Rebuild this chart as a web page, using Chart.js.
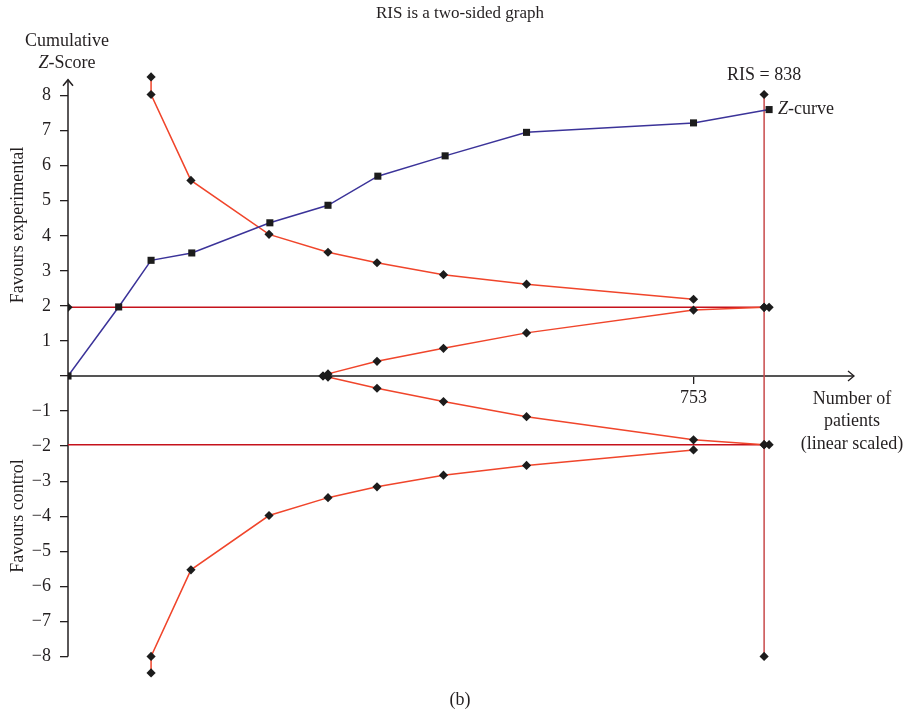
<!DOCTYPE html>
<html>
<head>
<meta charset="utf-8">
<script src="https://cdn.jsdelivr.net/npm/chart.js@4.4.1/dist/chart.umd.min.js"></script>
<style>
  html, body { margin: 0; padding: 0; background: #fff; }
  canvas { display: block; }
</style>
</head>
<body>
<canvas id="tsa" width="906" height="716"></canvas>
<script>
// cumulative Z-curve (patients accrued, z value)
const patients = [0, 61, 100, 149, 243, 313, 373, 454, 552, 753, 844];
const zCurve = [0, 1.97, 3.30, 3.51, 4.37, 4.87, 5.70, 6.28, 6.95, 7.22, 7.60];

// monitoring boundaries
const boundPatients = [100, 100, 148, 242, 313, 372, 452, 552, 753];
const upperEfficacy = [8.53, 8.03, 5.58, 4.04, 3.53, 3.23, 2.89, 2.62, 2.19];
const lowerEfficacy = [-8.47, -8.0, -5.53, -3.98, -3.47, -3.16, -2.83, -2.55, -2.11];

// futility wedge
const futPatients = [307, 313, 372, 452, 552, 753, 838];
const upperFutility = [0, 0.06, 0.42, 0.79, 1.23, 1.88, 1.96];
const lowerFutility = [0, -0.03, -0.35, -0.73, -1.16, -1.82, -1.96];

// conventional boundary and required information size
const convPatients = [0, 838, 844];
const conventional = 1.96;
const ris = 838;
const risZ = [8.03, -8.0];

const xTicks = [753];
const yTicks = [-8, -7, -6, -5, -4, -3, -2, -1, 0, 1, 2, 3, 4, 5, 6, 7, 8];

const FONT = '"Liberation Serif", "DejaVu Serif", serif';
const SIZE = 18;
const TEXT = '#231f20';
const MARK = '#1c1c1c';

function pts(xs, ys) {
  return xs.map((x, i) => ({ x: x, y: ys[i] }));
}

function lineSet(data, color, opts) {
  return Object.assign({
    data: data,
    showLine: true,
    borderColor: color,
    borderWidth: 1.5,
    pointStyle: 'rectRot',
    pointRadius: 4.6,
    pointBackgroundColor: MARK,
    pointBorderColor: MARK,
    pointBorderWidth: 0,
    tension: 0
  }, opts || {});
}

function italicStart(ctx, first, rest, x, y, align) {
  ctx.font = 'italic ' + SIZE + 'px ' + FONT;
  const w1 = ctx.measureText(first).width;
  ctx.font = SIZE + 'px ' + FONT;
  const w2 = ctx.measureText(rest).width;
  let left = x;
  if (align === 'center') left = x - (w1 + w2) / 2;
  ctx.textAlign = 'left';
  ctx.font = 'italic ' + SIZE + 'px ' + FONT;
  ctx.fillText(first, left, y);
  ctx.font = SIZE + 'px ' + FONT;
  ctx.fillText(rest, left + w1, y);
}

function vertical(ctx, text, x, y) {
  ctx.save();
  ctx.translate(x, y);
  ctx.rotate(-Math.PI / 2);
  ctx.textAlign = 'center';
  ctx.font = SIZE + 'px ' + FONT;
  ctx.fillText(text, 0, 0);
  ctx.restore();
}

const axesPlugin = {
  id: 'axes',
  beforeDatasetsDraw(chart) {
    const ctx = chart.ctx;
    const xs = chart.scales.x, ys = chart.scales.y;
    const x0 = xs.getPixelForValue(0);
    const y0 = ys.getPixelForValue(0);
    ctx.save();
    // y axis with arrow
    ctx.strokeStyle = '#231f20';
    ctx.lineWidth = 1.5;
    const yTop = ys.getPixelForValue(8.45);
    ctx.beginPath();
    ctx.moveTo(x0, ys.getPixelForValue(-8));
    ctx.lineTo(x0, yTop);
    ctx.stroke();
    ctx.beginPath();
    ctx.moveTo(x0 - 5, yTop + 6);
    ctx.lineTo(x0, yTop);
    ctx.lineTo(x0 + 5, yTop + 6);
    ctx.stroke();
    // x axis with arrow
    ctx.strokeStyle = '#555';
    ctx.lineWidth = 2;
    const xEnd = chart.chartArea.right + 1;
    ctx.beginPath();
    ctx.moveTo(x0, y0);
    ctx.lineTo(xEnd, y0);
    ctx.stroke();
    ctx.lineWidth = 1.3;
    ctx.strokeStyle = '#231f20';
    ctx.beginPath();
    ctx.moveTo(xEnd - 6, y0 - 5);
    ctx.lineTo(xEnd, y0);
    ctx.lineTo(xEnd - 6, y0 + 5);
    ctx.stroke();
    ctx.restore();
  },
  afterDraw(chart) {
    const ctx = chart.ctx;
    const xs = chart.scales.x, ys = chart.scales.y;
    ctx.save();
    ctx.fillStyle = TEXT;
    ctx.textBaseline = 'middle';
    ctx.textAlign = 'center';
    ctx.font = '17px ' + FONT;
    ctx.fillText('RIS is a two-sided graph', 460, 14);
    ctx.font = SIZE + 'px ' + FONT;
    ctx.fillText('(b)', 460, 700);
    ctx.fillText('Cumulative', 67, 41);
    italicStart(ctx, 'Z', '-Score', 67, 63, 'center');

    ctx.textAlign = 'center';
    ctx.fillText('Number of', 852, 399);
    ctx.fillText('patients', 852, 421);
    ctx.fillText('(linear scaled)', 852, 444);

    const rx = xs.getPixelForValue(ris);
    ctx.fillText('RIS = ' + ris, rx, 75);
    italicStart(ctx, 'Z', '-curve', xs.getPixelForValue(patients[patients.length - 1]) + 9,
      ys.getPixelForValue(zCurve[zCurve.length - 1]), 'left');

    vertical(ctx, 'Favours experimental', 18, 225);
    vertical(ctx, 'Favours control', 18, 516);
    ctx.restore();
  }
};

const ctx = document.getElementById('tsa').getContext('2d');
const chart = new Chart(ctx, {
  type: 'scatter',
  data: {
    datasets: [
      lineSet(pts(patients, zCurve), '#3b3399', { pointStyle: 'rect', pointRadius: 5, order: 0 }),
      lineSet(pts(boundPatients, upperEfficacy), '#f0452b', { order: 2 }),
      lineSet(pts(boundPatients, lowerEfficacy), '#f0452b', { order: 2 }),
      lineSet(pts(futPatients, upperFutility), '#f0452b', { order: 2 }),
      lineSet(pts(futPatients, lowerFutility), '#f0452b', { order: 2 }),
      lineSet(convPatients.map(x => ({ x: x, y: conventional })), '#c5121c',
        { pointRadius: [4.6, 4.6, 4.6], order: 3 }),
      lineSet(convPatients.map(x => ({ x: x, y: -conventional })), '#c5121c',
        { pointRadius: [0, 4.6, 4.6], order: 3 }),
      lineSet(risZ.map(z => ({ x: ris, y: z })), '#c84a4c', { order: 4 })
    ]
  },
  options: {
    responsive: false,
    animation: false,
    events: [],
    layout: { padding: { left: 16, right: 53, top: 64, bottom: 28 } },
    plugins: { legend: { display: false }, tooltip: { enabled: false } },
    scales: {
      x: {
        type: 'linear',
        min: 0,
        max: 945,
        position: { y: 0 },
        afterBuildTicks: s => { s.ticks = xTicks.map(v => ({ value: v })); },
        grid: { drawOnChartArea: false, tickLength: 8, color: '#231f20', lineWidth: 1.3 },
        border: { display: false },
        ticks: { color: TEXT, font: { family: FONT, size: SIZE }, padding: 3, autoSkip: false, maxRotation: 0 }
      },
      y: {
        type: 'linear',
        min: -8.9,
        max: 8.9,
        afterBuildTicks: s => { s.ticks = yTicks.map(v => ({ value: v })); },
        afterFit: s => { s.width = 52; },
        grid: { drawOnChartArea: false, tickLength: 8, color: '#231f20', lineWidth: 1.3 },
        border: { display: false },
        ticks: {
          color: TEXT,
          font: { family: FONT, size: SIZE },
          padding: 9,
          autoSkip: false,
          callback: v => v === 0 ? '' : (v < 0 ? '\u2212' + Math.abs(v) : String(v))
        }
      }
    }
  },
  plugins: [axesPlugin]
});
</script>
</body>
</html>
